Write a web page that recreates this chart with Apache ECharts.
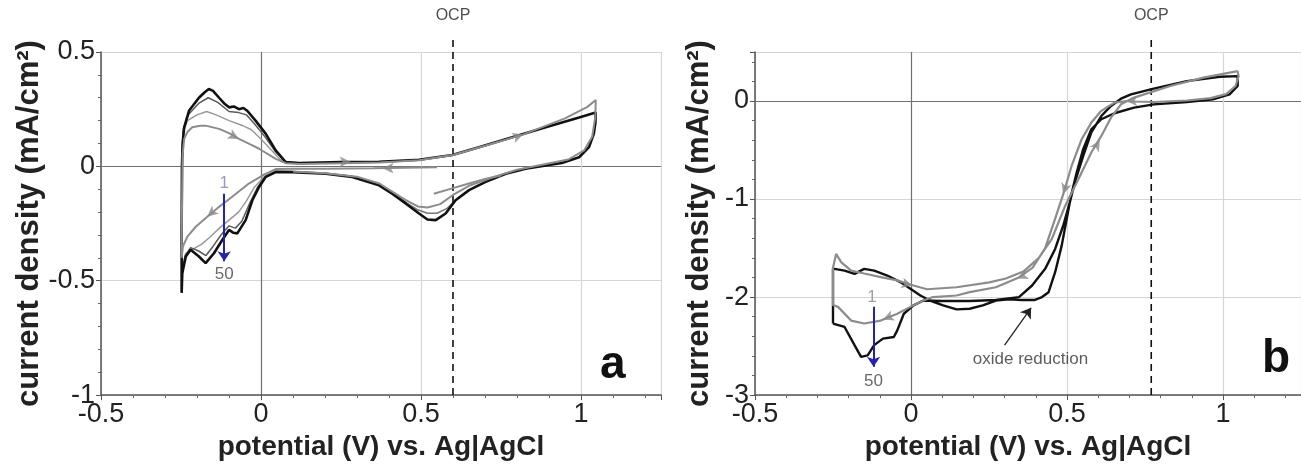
<!DOCTYPE html>
<html>
<head>
<meta charset="utf-8">
<script src="https://cdn.jsdelivr.net/npm/echarts@6/dist/echarts.min.js"></script>
<style>
  html, body { margin: 0; padding: 0; background: #fff; }
  #chart { width: 1301px; height: 466px; }
</style>
</head>
<body>
<div id="chart"></div>
<script>
// tick labels
var xTicks = [-0.5, 0, 0.5, 1];
var yTicksA = [-1, -0.5, 0, 0.5];
var yTicksB = [-3, -2, -1, 0];

// panel a: potential (V), current density (mA/cm2)
var aCycle50 = [[-0.248,-0.553],[-0.248,-0.3],[-0.247,0.0],[-0.245,0.1],[-0.24,0.17],[-0.225,0.243],[-0.194,0.30],[-0.175,0.325],[-0.163,0.338],[-0.15,0.33],[-0.131,0.30],[-0.115,0.275],[-0.1,0.258],[-0.085,0.262],[-0.069,0.25],[-0.055,0.255],[-0.043,0.243],[-0.017,0.2],[0.015,0.142],[0.046,0.07],[0.077,0.019],[0.119,0.015],[0.25,0.019],[0.369,0.02],[0.494,0.029],[0.598,0.05],[0.681,0.084],[0.785,0.127],[0.89,0.171],[0.994,0.214],[1.046,0.236],[1.045,0.19],[1.04,0.142],[1.025,0.084],[0.994,0.04],[0.94,0.015],[0.89,0.004],[0.827,-0.01],[0.765,-0.032],[0.702,-0.068],[0.65,-0.104],[0.608,-0.148],[0.577,-0.206],[0.546,-0.235],[0.52,-0.232],[0.494,-0.206],[0.452,-0.162],[0.41,-0.119],[0.369,-0.083],[0.285,-0.046],[0.202,-0.032],[0.098,-0.025],[0.046,-0.025],[0.015,-0.046],[-0.006,-0.09],[-0.027,-0.148],[-0.048,-0.235],[-0.074,-0.293],[-0.087,-0.29],[-0.1,-0.278],[-0.121,-0.322],[-0.147,-0.38],[-0.173,-0.423],[-0.194,-0.394],[-0.22,-0.365],[-0.235,-0.394],[-0.246,-0.467],[-0.248,-0.553]];
var aCycle1 = [[0.55,-0.004],[0.45,-0.006],[0.35,-0.008],[0.2,-0.01],[0.1,-0.01],[0.046,-0.012],[0.004,-0.04],[-0.038,-0.075],[-0.09,-0.133],[-0.131,-0.177],[-0.168,-0.22],[-0.204,-0.264],[-0.23,-0.307],[-0.244,-0.35],[-0.248,-0.4],[-0.247,-0.2],[-0.245,0.05],[-0.24,0.12],[-0.23,0.15],[-0.215,0.171],[-0.19,0.178],[-0.173,0.178],[-0.131,0.164],[-0.1,0.145],[-0.069,0.12],[-0.03,0.094],[-0.006,0.077],[0.046,0.033],[0.077,0.014],[0.12,0.01],[0.25,0.014],[0.37,0.017],[0.494,0.027],[0.6,0.05],[0.7,0.09],[0.82,0.14],[0.95,0.21],[1.02,0.26],[1.046,0.29],[1.045,0.22],[1.035,0.13],[1.01,0.07],[0.96,0.03],[0.89,0.01],[0.8,-0.015],[0.72,-0.05],[0.65,-0.085],[0.6,-0.125],[0.56,-0.165],[0.52,-0.18],[0.49,-0.175],[0.45,-0.145],[0.41,-0.11],[0.37,-0.075],[0.3,-0.045],[0.2,-0.03],[0.1,-0.022]];
var aStart = [[0.54,-0.12],[0.6,-0.095],[0.65,-0.075],[0.7,-0.055],[0.75,-0.04]];
var aCycle2 = [[0.1,-0.022],[0.046,-0.02],[0.01,-0.045],[-0.02,-0.09],[-0.045,-0.15],[-0.07,-0.2],[-0.1,-0.235],[-0.13,-0.27],[-0.16,-0.31],[-0.185,-0.34],[-0.21,-0.36],[-0.235,-0.38],[-0.247,-0.45],[-0.247,0.0],[-0.243,0.15],[-0.23,0.2],[-0.2,0.225],[-0.17,0.24],[-0.14,0.225],[-0.1,0.2],[-0.06,0.18],[-0.03,0.16],[0.0,0.12],[0.03,0.075],[0.06,0.03],[0.09,0.016],[0.15,0.015]];
var aCycle10 = [[0.1,-0.024],[0.046,-0.022],[0.012,-0.046],[-0.01,-0.09],[-0.035,-0.16],[-0.06,-0.24],[-0.08,-0.27],[-0.1,-0.26],[-0.125,-0.3],[-0.15,-0.35],[-0.172,-0.39],[-0.195,-0.37],[-0.22,-0.355],[-0.237,-0.39],[-0.247,-0.48],[-0.247,0.0],[-0.243,0.16],[-0.228,0.225],[-0.195,0.275],[-0.165,0.3],[-0.135,0.28],[-0.1,0.24],[-0.07,0.235],[-0.045,0.225],[-0.02,0.185],[0.012,0.13],[0.045,0.065],[0.077,0.019],[0.12,0.015]];
var aPeakMid = [[0.37,-0.08],[0.41,-0.115],[0.45,-0.155],[0.49,-0.19],[0.52,-0.205],[0.55,-0.205],[0.58,-0.185],[0.61,-0.145],[0.65,-0.105]];
// arrow heads on cycle 1: [V, j, rotation]
var aArrows = [[-0.069,0.12,-118],[-0.168,-0.22,131],[0.28,0.02,-90],[0.38,-0.008,90],[0.82,0.14,-71]];
var aOCP = [[0.6,-1],[0.6,0.565]];

// panel b
var bCycle50 = [[-0.25,-2.27],[-0.25,-2.0],[-0.25,-1.71],[-0.213,-1.73],[-0.181,-1.763],[-0.15,-1.712],[-0.118,-1.73],[-0.076,-1.78],[-0.034,-1.847],[-0.002,-1.915],[0.03,-1.984],[0.061,-2.035],[0.103,-2.085],[0.146,-2.126],[0.188,-2.119],[0.23,-2.085],[0.272,-2.035],[0.314,-2.024],[0.356,-2.03],[0.395,-2.03],[0.42,-2.0],[0.441,-1.95],[0.462,-1.746],[0.483,-1.475],[0.499,-1.203],[0.513,-0.966],[0.531,-0.729],[0.552,-0.491],[0.578,-0.288],[0.61,-0.186],[0.652,-0.125],[0.715,-0.068],[0.778,-0.034],[0.884,-0.01],[0.968,0.017],[1.021,0.068],[1.047,0.153],[1.047,0.254],[0.99,0.248],[0.884,0.203],[0.778,0.126],[0.705,0.068],[0.673,0.024],[0.641,-0.05],[0.61,-0.153],[0.578,-0.32],[0.552,-0.56],[0.525,-0.83],[0.509,-1.034],[0.488,-1.27],[0.462,-1.509],[0.43,-1.712],[0.388,-1.882],[0.346,-2.0],[0.272,-2.03],[0.188,-2.04],[0.1,-2.04],[0.04,-2.035],[0.008,-2.085],[-0.023,-2.17],[-0.044,-2.34],[-0.055,-2.407],[-0.09,-2.424],[-0.118,-2.49],[-0.139,-2.594],[-0.16,-2.61],[-0.181,-2.49],[-0.213,-2.305],[-0.25,-2.27]];
var bCycle1 = [[1.047,0.305],[1.05,0.25],[1.04,0.153],[1.01,0.07],[0.96,0.03],[0.884,0.005],[0.778,-0.01],[0.715,-0.005],[0.69,0.0],[0.652,-0.017],[0.61,-0.1],[0.578,-0.22],[0.547,-0.39],[0.515,-0.66],[0.488,-0.95],[0.462,-1.2],[0.43,-1.5],[0.39,-1.7],[0.346,-1.8],[0.272,-1.9],[0.188,-1.95],[0.146,-1.984],[0.07,-2.0],[0.04,-2.035],[-0.002,-2.1],[-0.044,-2.17],[-0.097,-2.24],[-0.15,-2.27],[-0.192,-2.24],[-0.234,-2.1],[-0.25,-2.08],[-0.25,-1.7],[-0.24,-1.56],[-0.224,-1.644],[-0.192,-1.73],[-0.15,-1.76],[-0.097,-1.797],[-0.044,-1.83],[0.008,-1.882],[0.051,-1.92],[0.146,-1.9],[0.251,-1.85],[0.304,-1.81],[0.36,-1.74],[0.41,-1.6],[0.451,-1.41],[0.494,-1.07],[0.536,-0.8],[0.578,-0.525],[0.61,-0.356],[0.641,-0.17],[0.673,-0.034],[0.715,0.035],[0.831,0.153],[0.937,0.238],[1.047,0.305]];
var bArrows = [[0.005,-1.885,-106],[-0.09,-2.23,112],[0.34,-1.81,113],[0.488,-0.95,163],[0.605,-0.4,-30],[0.69,0.0,90]];
var bOCP = [[0.77,-3],[0.77,0.65]];

// "1 -> 50" cycle arrows and text notes
var aCycleArrow = [[-0.115,-0.12],[-0.115,-0.415]];
var bCycleArrow = [[-0.12,-2.1],[-0.12,-2.71]];
var aCycleText = [[-0.115,-0.072,'1'],[-0.115,-0.47,'50']];
var bCycleText = [[-0.125,-2.0,'1'],[-0.12,-2.86,'50']];
var aOCPText = [[0.6,0.66,'OCP']];
var bOCPText = [[0.77,0.875,'OCP']];
var bNote = [[0.383,-2.63,'oxide reduction']];
var bNoteArrow = [[0.3,-2.49],[0.385,-2.11]];

var FONT = 'Liberation Sans, Arial, sans-serif';
var GRID_LINE = '#d6d6d6';
var ZERO_LINE = '#707070';

function xAxisFor(idx) {
    return {
        type: 'value', gridIndex: idx, min: -0.5, max: 1.25, interval: 0.5,
        name: 'potential (V) vs. Ag|AgCl', nameLocation: 'middle', nameGap: 31,
        nameTextStyle: { fontFamily: FONT, fontSize: 28, fontWeight: 'bold', color: '#222' },
        axisLine: { onZero: false, lineStyle: { color: '#555', width: 1.5 } },
        axisTick: { length: 5, lineStyle: { color: '#555' } },
        minorTick: { show: true, splitNumber: 5, length: 3, lineStyle: { color: '#666' } },
        axisLabel: { fontFamily: FONT, fontSize: 27, color: '#222', margin: 6, showMaxLabel: false,
            formatter: function (v) { return xTicks.indexOf(v) >= 0 ? String(v) : ''; } },
        splitLine: { show: true, lineStyle: { color: [GRID_LINE, ZERO_LINE, GRID_LINE, GRID_LINE, GRID_LINE], width: 1.2 } }
    };
}

function yAxisFor(idx, min, max, interval, ticks, colors, gap) {
    return {
        type: 'value', gridIndex: idx, min: min, max: max, interval: interval,
        name: 'current density (mA/cm²)', nameLocation: 'middle', nameGap: gap,
        nameTextStyle: { fontFamily: FONT, fontSize: 31, fontWeight: 'bold', color: '#222' },
        axisLine: { onZero: false, lineStyle: { color: '#555', width: 1.5 } },
        axisTick: { length: 5, lineStyle: { color: '#555' } },
        minorTick: { show: true, splitNumber: 5, length: 3, lineStyle: { color: '#666' } },
        axisLabel: { fontFamily: FONT, fontSize: 27, color: '#222', margin: 6,
            formatter: function (v) { return ticks.indexOf(v) >= 0 ? String(v) : ''; } },
        splitLine: { show: true, lineStyle: { color: colors, width: 1.2 } }
    };
}

function curve(data, idx, color, width, z, dash) {
    return {
        type: 'line', data: data, xAxisIndex: idx, yAxisIndex: idx,
        showSymbol: false, symbol: 'none', smooth: false, z: z, clip: false,
        lineStyle: { color: color, width: width, type: dash || 'solid' }, silent: true
    };
}

function arrowHeads(data, idx) {
    return {
        type: 'scatter', data: data, xAxisIndex: idx, yAxisIndex: idx, z: 6,
        symbol: 'arrow', symbolSize: [8, 11],
        symbolRotate: function (v) { return v[2]; },
        itemStyle: { color: '#8a8a8a' }, silent: true
    };
}

function notes(data, idx, size, colors) {
    return {
        type: 'scatter', xAxisIndex: idx, yAxisIndex: idx, symbolSize: 0, z: 7, clip: false,
        data: data.map(function (d, i) {
            return { value: d, label: { color: colors[i] } };
        }),
        label: { show: true, position: 'inside', fontFamily: FONT, fontSize: size,
            formatter: function (p) { return p.value[2]; } }, silent: true
    };
}

function pointer(seg, idx, color, width) {
    return {
        type: 'line', data: [], xAxisIndex: idx, yAxisIndex: idx, z: 8,
        markLine: {
            silent: true, symbol: ['none', 'arrow'], symbolSize: 10, label: { show: false },
            lineStyle: { color: color, width: width, type: 'solid' },
            data: [[{ coord: seg[0] }, { coord: seg[1] }]]
        }
    };
}

var chart = echarts.init(document.getElementById('chart'), null, { renderer: 'canvas' });
var option = {
    animation: false,
    backgroundColor: '#fff',
    grid: [
        { left: 101, top: 52, width: 560, height: 344 },
        { left: 755, top: 52, width: 553, height: 344 }
    ],
    xAxis: [xAxisFor(0), xAxisFor(1)],
    yAxis: [
        yAxisFor(0, -1, 0.5, 0.5, yTicksA, [GRID_LINE, GRID_LINE, ZERO_LINE, GRID_LINE], 49),
        yAxisFor(1, -3, 0.5, 1, yTicksB, [GRID_LINE, GRID_LINE, GRID_LINE, ZERO_LINE, GRID_LINE], 40)
    ],
    graphic: [
        { type: 'text', left: 600, top: 342, style: { text: 'a', font: 'bold 46px ' + FONT, fill: '#111' } },
        { type: 'text', left: 1262, top: 336, style: { text: 'b', font: 'bold 46px ' + FONT, fill: '#111' } }
    ],
    series: [
        curve(aOCP, 0, '#111', 1.6, 3, [7, 5]),
        notes(aOCPText, 0, 16, ['#222']),
        curve(aCycle2, 0, '#9a9a9a', 1.5, 2),
        curve(aCycle10, 0, '#5a5a5a', 1.5, 2),
        curve(aPeakMid, 0, '#777', 1.5, 2),
        curve(aCycle50, 0, '#111', 2.6, 3),
        curve(aCycle1, 0, '#8c8c8c', 2, 4),
        curve(aStart, 0, '#8c8c8c', 2, 4),
        arrowHeads(aArrows, 0),
        pointer(aCycleArrow, 0, '#2323b0', 2),
        notes(aCycleText, 0, 17, ['#8080b8', '#444']),

        curve(bOCP, 1, '#111', 1.6, 3, [7, 5]),
        notes(bOCPText, 1, 16, ['#222']),
        curve(bCycle50, 1, '#111', 2.4, 3),
        curve(bCycle1, 1, '#8c8c8c', 2.2, 4),
        arrowHeads(bArrows, 1),
        pointer(bCycleArrow, 1, '#2323b0', 2),
        notes(bCycleText, 1, 17, ['#8a8a8a', '#444']),
        pointer(bNoteArrow, 1, '#222', 1.3),
        notes(bNote, 1, 17, ['#333'])
    ]
};
chart.setOption(option);
</script>
</body>
</html>
